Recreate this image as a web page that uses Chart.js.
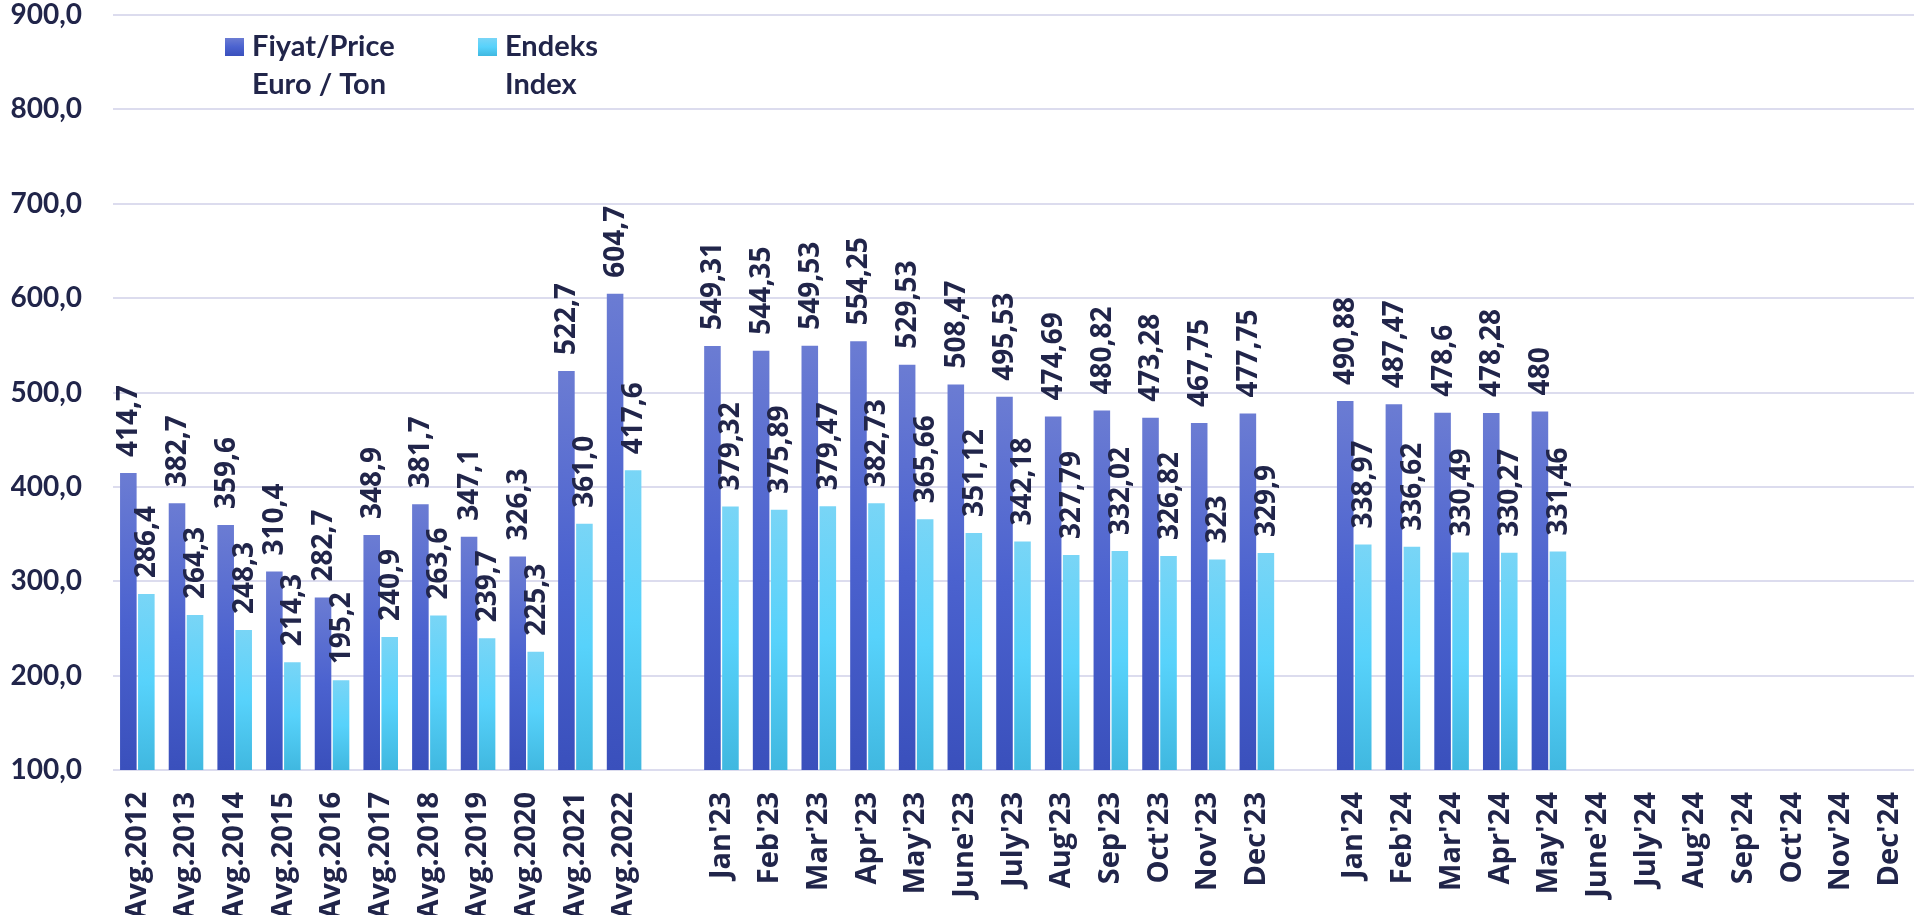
<!DOCTYPE html>
<html>
<head>
<meta charset="utf-8">
<script src="https://cdn.jsdelivr.net/npm/chart.js@4.4.1/dist/chart.umd.min.js"></script>
<style>
  html, body { margin: 0; padding: 0; background: #fff; }
  #wrap { width: 1921px; height: 920px; position: relative; }
</style>
</head>
<body>
<div id="wrap"><canvas id="grafico"></canvas></div>
<script>
// kategoriler (bos etiketler gruplar arasi bosluk)
var kategoriler = [
  'Avg.2012', 'Avg.2013', 'Avg.2014', 'Avg.2015', 'Avg.2016', 'Avg.2017',
  'Avg.2018', 'Avg.2019', 'Avg.2020', 'Avg.2021', 'Avg.2022',
  '',
  "Jan'23", "Feb'23", "Mar'23", "Apr'23", "May'23", "June'23",
  "July'23", "Aug'23", "Sep'23", "Oct'23", "Nov'23", "Dec'23",
  '',
  "Jan'24", "Feb'24", "Mar'24", "Apr'24", "May'24", "June'24",
  "July'24", "Aug'24", "Sep'24", "Oct'24", "Nov'24", "Dec'24"
];

var fiyat = [
  414.7, 382.7, 359.6, 310.4, 282.7, 348.9, 381.7, 347.1, 326.3, 522.7, 604.7,
  null,
  549.31, 544.35, 549.53, 554.25, 529.53, 508.47, 495.53, 474.69, 480.82, 473.28, 467.75, 477.75,
  null,
  490.88, 487.47, 478.6, 478.28, 480, null, null, null, null, null, null, null
];

var endeks = [
  286.4, 264.3, 248.3, 214.3, 195.2, 240.9, 263.6, 239.7, 225.3, 361.0, 417.6,
  null,
  379.32, 375.89, 379.47, 382.73, 365.66, 351.12, 342.18, 327.79, 332.02, 326.82, 323, 329.9,
  null,
  338.97, 336.62, 330.49, 330.27, 331.46, null, null, null, null, null, null, null
];

// ortalama yillar tek ondalik, aylar oldugu gibi
var ortalamaSayisi = 11;

var yMin = 100;
var yMax = 900;
var yAdim = 100;

var yaziRengi = '#21254a';
var koyuRenkler = ['#6b7cd3', '#4b62cf', '#3a50bc'];
var acikRenkler = ['#79d5f6', '#57d2fb', '#40b8e0'];

function etiketYaz(v, i) {
  if (i < ortalamaSayisi) return v.toFixed(1).replace('.', ',');
  return String(v).replace('.', ',');
}

function gradyan(c, top, bottom, renkler) {
  var g = c.createLinearGradient(0, top, 0, bottom);
  g.addColorStop(0, renkler[0]);
  g.addColorStop(0.5, renkler[1]);
  g.addColorStop(1, renkler[2]);
  return g;
}

function barRengi(renkler) {
  return function (context) {
    var chart = context.chart;
    if (!chart.chartArea || context.raw == null) return renkler[1];
    var y = chart.scales.y;
    return gradyan(chart.ctx, y.getPixelForValue(context.raw), y.getPixelForValue(yMin), renkler);
  };
}

// cubuk ustu dikey etiketler
var degerEtiketleri = {
  id: 'degerEtiketleri',
  afterDatasetsDraw: function (chart) {
    var c = chart.ctx;
    c.save();
    c.fillStyle = yaziRengi;
    c.font = 'bold 28px "Open Sans"';
    c.textAlign = 'left';
    c.textBaseline = 'middle';
    chart.data.datasets.forEach(function (ds, di) {
      var meta = chart.getDatasetMeta(di);
      meta.data.forEach(function (bar, i) {
        var v = ds.data[i];
        if (v == null) return;
        c.save();
        c.translate(bar.x + 1, bar.y - 16);
        c.rotate(-Math.PI / 2);
        c.fillText(etiketYaz(v, i), 0, 0);
        c.restore();
      });
    });
    c.restore();
  }
};

// grafik icindeki iki satirli lejant
var lejant = {
  id: 'lejant',
  afterDraw: function (chart) {
    var c = chart.ctx;
    var ogeler = [
      { x: 225, satirlar: ['Fiyat/Price', 'Euro / Ton'], renkler: koyuRenkler },
      { x: 478, satirlar: ['Endeks', 'Index'], renkler: acikRenkler }
    ];
    c.save();
    c.font = 'bold 29px Lato';
    c.textAlign = 'left';
    c.textBaseline = 'alphabetic';
    ogeler.forEach(function (o) {
      c.fillStyle = gradyan(c, 38, 56, o.renkler);
      c.fillRect(o.x, 38, 19, 18);
      c.fillStyle = yaziRengi;
      c.fillText(o.satirlar[0], o.x + 27, 56);
      c.fillText(o.satirlar[1], o.x + 27, 94);
    });
    c.restore();
  }
};

new Chart(document.getElementById('grafico').getContext('2d'), {
  type: 'bar',
  data: {
    labels: kategoriler,
    datasets: [{
      label: 'Fiyat/Price Euro / Ton',
      data: fiyat,
      backgroundColor: barRengi(koyuRenkler),
      categoryPercentage: 0.74,
      barPercentage: 0.92
    }, {
      label: 'Endeks Index',
      data: endeks,
      backgroundColor: barRengi(acikRenkler),
      categoryPercentage: 0.74,
      barPercentage: 0.92
    }]
  },
  options: {
    responsive: true,
    maintainAspectRatio: false,
    animation: false,
    layout: { padding: { left: 11, right: 7, top: 15, bottom: 5 } },
    plugins: {
      legend: { display: false },
      tooltip: { enabled: false }
    },
    scales: {
      x: {
        grid: { display: false, drawTicks: false },
        border: { display: false },
        afterFit: function (s) {
          s.height = 145;
          s.paddingLeft = 0;
          s.paddingRight = 0;
        },
        ticks: {
          autoSkip: false,
          maxRotation: 90,
          minRotation: 90,
          padding: 22,
          color: yaziRengi,
          font: { family: '"Open Sans"', size: 29, weight: 'bold' }
        }
      },
      y: {
        min: yMin,
        max: yMax,
        grid: { color: '#dcdcee', lineWidth: 2, drawTicks: false },
        border: { display: false },
        afterFit: function (s) {
          s.width = 102;
          s.paddingTop = 0;
          s.paddingBottom = 0;
        },
        ticks: {
          stepSize: yAdim,
          padding: 31,
          color: yaziRengi,
          font: { family: 'Lato', size: 28, weight: 'bold' },
          callback: function (v) { return v.toFixed(1).replace('.', ','); }
        }
      }
    }
  },
  plugins: [degerEtiketleri, lejant]
});
</script>
</body>
</html>
